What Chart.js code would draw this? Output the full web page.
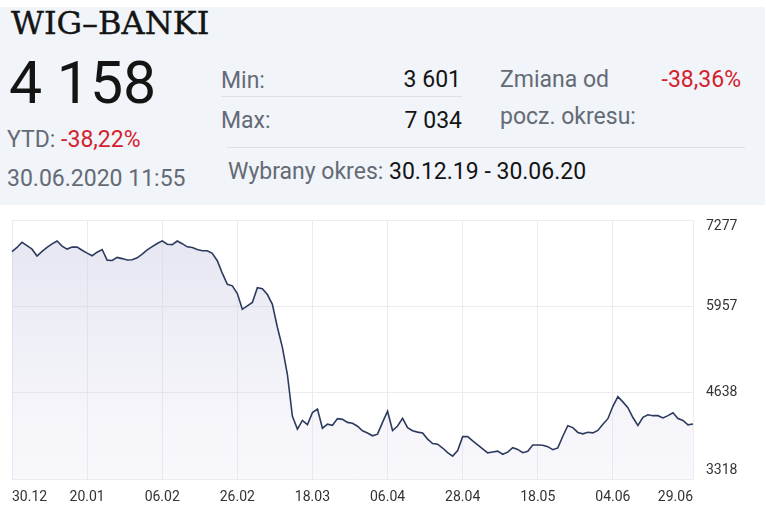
<!DOCTYPE html>
<html lang="pl">
<head>
<meta charset="utf-8">
<title>WIG-BANKI</title>
<script src="https://cdn.jsdelivr.net/npm/chart.js@4.4.1/dist/chart.umd.min.js"></script>
<style>
  body { margin: 0; background: #fff; font-family: Roboto, sans-serif; }
  #page { position: relative; width: 766px; height: 510px; overflow: hidden; }
  #panel { position: absolute; left: 0; top: 7px; width: 765px; height: 198px; background: #f1f4f8; }
  .t { position: absolute; line-height: 1; white-space: nowrap; }
  .gray { color: #646b76; }
  .dark { color: #141414; }
  .red { color: #d3222f; }
  .sep { position: absolute; height: 1px; background: #dde1e7; }
  #chartBox { position: absolute; left: 0; top: 210px; width: 766px; height: 300px; }
</style>
</head>
<body>
<div id="page">
  <div id="panel"></div>
  <div class="t dark" style="left:11px; top:7px; font-family:'DejaVu Serif', serif; font-size:32px; -webkit-text-stroke:0.4px #141414;">WIG–BANKI</div>
  <div class="t dark" style="left:9px; top:53px; font-size:59px;">4 158</div>
  <div class="t gray" style="left:7px; top:128px; font-size:23px;">YTD: <span class="red">-38,22%</span></div>
  <div class="t gray" style="left:7px; top:167px; font-size:23px;">30.06.2020 11:55</div>

  <div class="t gray" style="left:221px; top:69px; font-size:23px;">Min:</div>
  <div class="t dark" style="right:305px; top:68px; font-size:23px;">3 601</div>
  <div class="sep" style="left:221px; top:96px; width:241px;"></div>
  <div class="t gray" style="left:221px; top:109px; font-size:23px;">Max:</div>
  <div class="t dark" style="right:304px; top:109px; font-size:23px;">7 034</div>

  <div class="t gray" style="left:500px; top:68px; font-size:23px;">Zmiana od</div>
  <div class="t red" style="right:25px; top:68px; font-size:23px;">-38,36%</div>
  <div class="t gray" style="left:500px; top:105px; font-size:23px;">pocz. okresu:</div>

  <div class="sep" style="left:227px; top:147px; width:518px;"></div>
  <div class="t gray" style="left:228px; top:160px; font-size:23px;">Wybrany okres:</div>
  <div class="t dark" style="left:389px; top:160px; font-size:23px;">30.12.19 - 30.06.20</div>

  <div id="chartBox"><canvas id="chart"></canvas></div>
</div>

<script>
// WIG-BANKI, sesje od 30.12.2019 do 30.06.2020
const values = [
  6792, 6857, 6936, 6886, 6831, 6727, 6796, 6858, 6912, 6956,
  6878, 6832, 6864, 6863, 6815, 6770, 6731, 6785, 6826, 6663,
  6659, 6705, 6687, 6666, 6669, 6699, 6756, 6820, 6870, 6918,
  6958, 6906, 6901, 6956, 6915, 6867, 6857, 6826, 6808, 6808,
  6768, 6655, 6464, 6293, 6271, 6152, 5912, 5964, 6016, 6242,
  6227, 6138, 5987, 5637, 5330, 4915, 4276, 4081, 4214, 4148,
  4333, 4386, 4094, 4157, 4139, 4241, 4230, 4183, 4169, 4124,
  4055, 4020, 3978, 4003, 4183, 4354, 4059, 4128, 4244, 4104,
  4055, 4035, 4021, 3928, 3859, 3850, 3792, 3721, 3668, 3752,
  3965, 3965, 3902, 3841, 3778, 3717, 3731, 3744, 3696, 3728,
  3796, 3770, 3720, 3741, 3838, 3838, 3833, 3812, 3766, 3793,
  3971, 4133, 4104, 4030, 4009, 4033, 4023, 4061, 4154, 4240,
  4429, 4576, 4497, 4408, 4258, 4136, 4261, 4299, 4286, 4286,
  4252, 4287, 4331, 4243, 4212, 4146, 4158
];
const labels = values.map((_, i) => i);

const tickPos = [0, 15, 30, 45, 60, 75, 90, 105, 120, 136];
const tickLabels = ['30.12', '20.01', '06.02', '26.02', '18.03', '06.04', '28.04', '18.05', '04.06', '29.06'];

const yTicks = [3318, 4638, 5957, 7277];

const fillGradient = (c) => {
  const chart = c.chart;
  const area = chart.chartArea;
  if (!area) return 'rgba(0,0,0,0)';
  const g = chart.ctx.createLinearGradient(0, area.top, 0, area.bottom);
  g.addColorStop(0, 'rgba(196,196,224,0.45)');
  g.addColorStop(1, 'rgba(222,222,240,0.2)');
  return g;
};

// etykiety osi Y, dosuniete do krawedzi wykresu
const yLabels = {
  id: 'yLabels',
  afterDraw(chart) {
    const s = chart.scales.y;
    const a = chart.chartArea;
    const c = chart.ctx;
    c.save();
    c.font = '14px Roboto';
    c.fillStyle = '#333';
    c.textAlign = 'left';
    c.textBaseline = 'middle';
    yTicks.forEach(v => {
      const y = Math.min(Math.max(s.getPixelForValue(v), a.top + 6), a.bottom - 9);
      c.fillText(String(v), s.left + 13, y);
    });
    c.restore();
  }
};

new Chart(document.getElementById('chart'), {
  type: 'line',
  data: {
    labels: labels,
    datasets: [{
      data: values,
      borderColor: '#2d3b5f',
      borderWidth: 1.6,
      pointRadius: 0,
      tension: 0,
      fill: 'start',
      backgroundColor: fillGradient
    }]
  },
  options: {
    responsive: true,
    maintainAspectRatio: false,
    animation: false,
    layout: { padding: { top: 10, left: 12, right: 0, bottom: 0 } },
    plugins: {
      legend: { display: false },
      tooltip: { enabled: false }
    },
    scales: {
      x: {
        type: 'category',
        offset: false,
        grid: { color: '#ebebf0', drawTicks: false },
        border: { display: false },
        afterBuildTicks: s => { s.ticks = tickPos.map(v => ({ value: v })); },
        afterFit: s => { s.height = 31; },
        ticks: {
          autoSkip: false,
          maxRotation: 0,
          align: 'inner',
          padding: 10,
          color: '#333',
          font: { family: 'Roboto', size: 14 },
          callback: (v, i) => tickLabels[i]
        }
      },
      y: {
        position: 'right',
        min: yTicks[0],
        max: yTicks[yTicks.length - 1],
        afterBuildTicks: s => { s.ticks = yTicks.map(v => ({ value: v })); },
        afterFit: s => { s.width = 73; },
        grid: { color: '#ebebf0', drawTicks: false },
        border: { display: true, color: '#ebebf0' },
        ticks: { display: false }
      }
    }
  },
  plugins: [yLabels]
});
</script>
</body>
</html>
